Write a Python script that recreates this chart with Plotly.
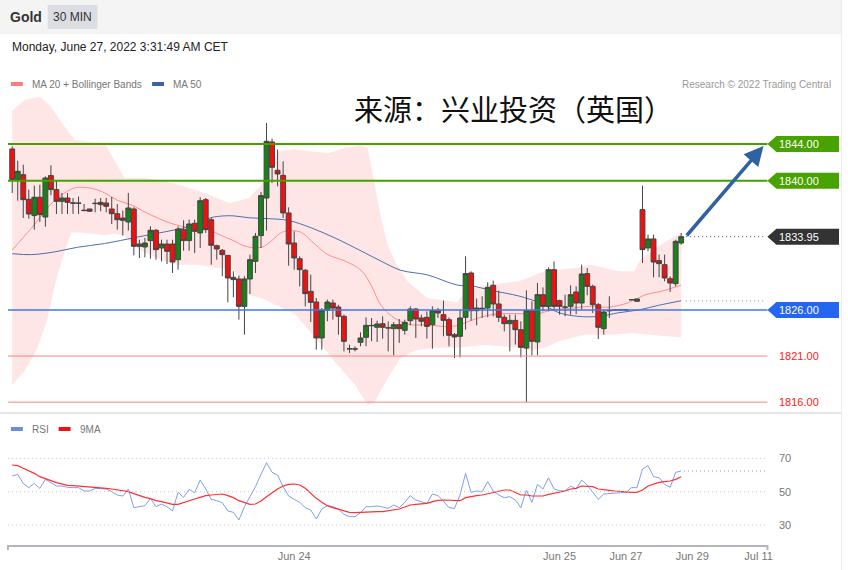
import plotly.graph_objects as go

W, H = 848, 570

# ---------------- data ----------------
opens = [1843.46,1840.13,1840.67,1838.00,1836.23,1838.22,1836.08,1840.57,1839.05,1837.78,
         1838.14,1837.62,1837.60,1836.82,1836.95,1837.58,1837.67,1837.60,1836.95,1836.44,
         1835.97,1835.54,1836.95,1832.90,1832.83,1833.52,1834.64,1832.72,1833.15,1833.15,
         1831.45,1834.71,1833.52,1835.40,1834.35,1837.96,1835.79,1832.97,1832.47,1831.92,
         1829.54,1829.36,1826.39,1829.36,1831.27,1834.06,1838.14,1844.22,1841.14,1840.60,
         1836.52,1833.26,1831.56,1830.30,1828.02,1826.86,1822.96,1825.96,1826.75,1826.32,
         1825.31,1821.80,1821.78,1822.49,1823.03,1824.33,1824.12,1824.51,1824.07,1823.97,
         1824.40,1823.79,1824.84,1826.10,1825.13,1825.20,1824.40,1825.92,1825.49,1824.95,
         1823.32,1823.14,1825.20,1830.01,1825.92,1826.14,1826.21,1828.67,1826.65,1825.20,
         1824.51,1824.87,1823.86,1821.87,1825.92,1822.53,1827.66,1826.39,1830.37,1827.01,
         1826.30,1826.39,1827.95,1826.75,1829.94,1828.56,1826.57,1823.97,1825.90,1826.00,
         1826.00,1826.02,1827.10,1826.94,1836.88,1832.72,1833.70,1831.35,1830.91,1829.39,
         1828.85,1833.26]
highs = [1843.75,1842.19,1841.76,1839.05,1839.48,1839.59,1840.49,1841.69,1840.02,1838.69,
         1838.69,1838.14,1838.30,1837.49,1836.97,1838.07,1838.14,1838.14,1838.25,1837.49,
         1836.77,1838.69,1837.13,1833.62,1833.80,1835.07,1834.78,1833.62,1833.62,1833.62,
         1835.07,1835.72,1835.79,1835.79,1838.22,1838.14,1835.97,1833.08,1832.61,1831.93,
         1830.19,1829.72,1829.65,1832.00,1834.35,1838.79,1846.28,1844.58,1843.39,1842.12,
         1837.13,1834.53,1831.82,1830.44,1829.83,1827.30,1826.21,1827.12,1827.12,1826.57,
         1825.49,1822.24,1822.06,1823.57,1825.20,1825.13,1824.84,1825.31,1824.77,1824.69,
         1825.02,1824.95,1826.39,1826.21,1825.49,1825.85,1826.39,1826.21,1827.01,1825.20,
         1823.50,1826.03,1831.82,1830.19,1827.23,1827.48,1829.00,1829.18,1828.09,1825.49,
         1825.49,1825.49,1824.77,1828.13,1826.94,1828.92,1828.45,1830.62,1831.27,1827.12,
         1827.66,1828.67,1828.56,1830.91,1830.55,1828.74,1826.75,1826.03,1827.48,1826.05,
         1826.05,1826.05,1827.15,1827.23,1839.48,1834.17,1834.17,1832.00,1832.00,1829.65,
         1833.62,1834.35]
lows = [1838.69,1837.85,1835.97,1835.90,1834.71,1835.54,1835.03,1838.43,1836.41,1836.41,
        1836.41,1836.41,1836.41,1836.70,1836.68,1836.59,1836.70,1836.59,1835.32,1834.71,
        1834.09,1834.60,1831.92,1831.64,1831.71,1831.56,1831.45,1831.27,1830.98,1830.01,
        1830.37,1832.43,1832.43,1832.18,1832.72,1834.35,1830.91,1831.45,1829.65,1826.83,
        1827.37,1824.95,1823.32,1827.73,1830.01,1832.72,1834.60,1839.77,1839.41,1835.97,
        1830.80,1830.37,1828.56,1826.39,1824.69,1821.69,1821.69,1824.77,1824.95,1823.32,
        1821.51,1821.33,1821.51,1822.06,1822.06,1822.60,1822.53,1822.89,1821.51,1821.08,
        1822.42,1823.32,1824.33,1822.96,1824.22,1822.89,1821.80,1825.13,1823.14,1822.06,
        1820.79,1820.86,1823.86,1824.84,1824.33,1825.13,1825.20,1825.31,1824.69,1823.68,
        1821.51,1822.24,1820.86,1816.02,1821.08,1821.08,1825.85,1825.85,1826.03,1825.49,
        1825.31,1825.49,1825.56,1826.03,1827.59,1825.67,1822.85,1823.32,1825.13,1825.95,
        1825.95,1825.97,1827.05,1826.90,1831.09,1832.36,1829.54,1829.54,1829.10,1827.95,
        1828.56,1833.08]
closes = [1840.13,1841.04,1837.96,1836.41,1838.22,1836.34,1840.31,1839.05,1837.78,1838.14,
          1837.67,1837.58,1837.56,1836.78,1836.70,1837.54,1837.42,1837.24,1836.44,1835.79,
          1835.72,1837.06,1832.90,1833.15,1833.26,1834.64,1832.54,1833.15,1832.36,1831.20,
          1834.78,1833.52,1835.32,1834.53,1837.85,1834.71,1833.01,1832.61,1832.00,1829.47,
          1829.29,1826.39,1829.36,1831.45,1833.99,1838.40,1844.29,1841.47,1840.75,1836.52,
          1833.15,1831.64,1830.37,1827.77,1826.83,1822.96,1825.96,1826.86,1826.21,1825.31,
          1822.60,1821.78,1821.76,1822.96,1824.33,1824.30,1824.48,1824.12,1824.05,1824.40,
          1823.97,1824.66,1826.10,1825.02,1824.77,1824.22,1825.92,1825.67,1824.87,1823.25,
          1823.07,1825.13,1829.94,1825.92,1826.21,1826.17,1828.45,1826.65,1825.20,1824.51,
          1824.87,1823.86,1821.95,1825.92,1822.60,1827.66,1826.39,1830.37,1826.39,1826.39,
          1826.32,1827.66,1826.75,1829.90,1828.56,1826.57,1824.12,1825.78,1825.95,1826.00,
          1826.02,1826.00,1827.12,1827.19,1832.54,1833.70,1831.20,1831.02,1829.47,1828.92,
          1833.44,1833.95]
idx = list(range(len(closes)))

# Bollinger band edges and moving averages (candle index, price)
bb_up_idx = [0, 2.3, 5.0, 6.8, 8.6, 11.3, 16.7, 18.5, 20.3, 23.9, 27.5, 31.1, 34.7, 39.2, 42.8, 45.1,
             48.1, 51.2, 54.8, 57.1, 60.2, 63.1, 64.3, 65.6, 66.7, 67.9, 69.2, 71.5, 75.1, 80.5, 82.0,
             85.6, 91.7, 96.3, 102.5, 104.8, 109.7, 112.5, 113.8, 116.9, 121]
bb_up = [1847.6, 1848.8, 1849.1, 1848.2, 1846.6, 1844.4, 1844.1, 1842.2, 1840.3, 1840.3, 1840.0, 1839.4,
         1838.7, 1837.6, 1838.1, 1839.6, 1843.2, 1843.4, 1843.2, 1843.0, 1843.6, 1843.9, 1843.6, 1839.6,
         1836.0, 1833.1, 1831.3, 1829.1, 1827.3, 1826.8, 1828.1, 1828.7, 1829.1, 1830.2, 1830.6, 1830.9,
         1830.2, 1830.2, 1831.6, 1832.9, 1834.4]
bb_lo_idx = [0, 2.3, 4.6, 6.4, 7.7, 9.1, 10.7, 12.5, 16.7, 18.5, 20.3, 23.0, 27.5, 29.8, 33.4, 37.0, 40.1,
             42.8, 45.1, 51.2, 55.9, 58.9, 62.0, 64.3, 65.6, 67.9, 70.3, 72.8, 76.4, 80.5, 85.6, 91.7,
             93.5, 96.3, 98.9, 103.5, 108.4, 112.0, 115.6, 121]
bb_lo = [1817.9, 1819.4, 1821.9, 1825.1, 1828.7, 1831.6, 1834.4, 1834.4, 1834.1, 1834.3, 1834.0, 1832.5,
         1831.3, 1830.9, 1830.9, 1830.6, 1830.3, 1827.6, 1827.3, 1825.5, 1822.2, 1820.0, 1817.9, 1815.7,
         1816.1, 1818.6, 1820.8, 1821.6, 1821.9, 1821.9, 1822.2, 1821.9, 1821.6, 1821.9, 1822.6, 1823.3,
         1823.3, 1823.5, 1823.3, 1823.0]
ma20_idx = [0, 3.5, 7.7, 10.7, 11.8, 14.3, 16.7, 19.0, 21.5, 24.4, 28.7, 32.3, 34.7, 37.7, 40.1, 42.2,
            45.1, 46.9, 48.7, 50.5, 52.3, 54.8, 57.1, 60.2, 63.1, 64.9, 66.7, 69.2, 72.1, 75.1, 78.2,
            80.5, 83.2, 86.8, 91.7, 94.5, 97.6, 101.2, 104.8, 107.9, 111.5, 114.3, 117.9, 121]
ma20 = [1832.5, 1834.9, 1837.9, 1839.1, 1839.3, 1839.2, 1838.7, 1837.9, 1837.4, 1836.5, 1835.4, 1834.9,
        1834.9, 1834.1, 1833.5, 1832.9, 1832.8, 1833.5, 1834.4, 1834.6, 1834.4, 1833.1, 1832.0, 1831.3,
        1830.3, 1828.7, 1826.5, 1825.1, 1824.4, 1824.4, 1824.2, 1824.3, 1824.9, 1825.5, 1825.6, 1825.5,
        1826.0, 1826.2, 1826.4, 1826.3, 1826.8, 1827.6, 1828.1, 1828.7]
ma50_idx = [0, 3.5, 7.7, 11.8, 16.7, 22.6, 28.7, 32.3, 35.9, 38.3, 40.1, 42.8, 46.4, 50.0, 54.1, 58.4,
            63.1, 66.7, 70.3, 75.1, 80.5, 83.2, 86.8, 91.7, 95.3, 98.9, 102.5, 106.1, 109.7, 113.3,
            116.9, 121]
ma50 = [1832.1, 1832.0, 1832.3, 1832.8, 1833.2, 1833.9, 1834.6, 1835.1, 1836.0, 1836.2, 1836.2, 1836.0,
        1835.9, 1835.7, 1834.9, 1833.8, 1832.4, 1831.3, 1830.3, 1829.8, 1828.7, 1828.6, 1828.1, 1827.5,
        1826.8, 1825.7, 1825.3, 1825.3, 1825.7, 1826.0, 1826.5, 1827.0]

rsi = [59.4, 60.4, 55.0, 52.4, 55.0, 52.0, 57.4, 55.4, 53.4, 53.4,
       52.6, 52.4, 52.4, 50.4, 50.4, 52.0, 52.0, 51.6, 50.0, 48.0,
       47.4, 51.6, 40.4, 40.8, 41.6, 46.0, 41.0, 42.6, 41.0, 38.4,
       49.6, 46.6, 51.4, 49.4, 57.0, 51.6, 45.4, 44.6, 43.4, 38.4,
       37.6, 33.0, 41.0, 47.0, 53.0, 60.4, 67.4, 61.6, 60.0, 53.0,
       47.4, 45.4, 43.6, 40.4, 39.0, 33.6, 39.6, 41.6, 41.0, 39.6,
       36.4, 35.0, 35.0, 37.4, 41.0, 41.0, 41.4, 40.8, 40.0, 42.0,
       40.4, 43.6, 47.6, 45.0, 44.0, 43.0, 48.6, 47.6, 44.4, 40.4,
       40.0, 48.0, 61.0, 49.6, 50.4, 50.0, 56.0, 50.4, 48.0, 46.4,
       47.0, 45.0, 40.4, 51.0, 43.6, 54.4, 51.6, 58.4, 51.6, 50.6,
       50.4, 53.4, 51.6, 57.0, 54.0, 49.6, 45.4, 48.6, 49.0, 49.4,
       49.4, 49.4, 52.4, 52.4, 63.6, 65.6, 59.0, 58.4, 54.4, 52.6,
       61.6, 62.4]
rsi_ma = [66.0, 65.6, 64.0, 62.6, 61.0, 59.0, 58.0, 56.6, 55.4, 54.6,
          53.8, 53.6, 53.4, 53.2, 53.0, 52.6, 52.2, 52.0, 51.6, 51.0,
          50.4, 50.0, 48.8, 47.6, 46.6, 45.8, 44.6, 44.0, 43.2, 42.4,
          42.4, 43.6, 44.6, 45.6, 46.6, 47.6, 48.0, 48.4, 48.6, 47.6,
          46.4, 44.6, 43.4, 42.4, 42.6, 44.4, 47.0, 49.4, 51.6, 53.4,
          54.4, 54.6, 54.0, 52.0, 49.0, 46.0, 43.6, 41.6, 40.4, 39.6,
          38.6, 37.6, 37.4, 37.6, 38.0, 38.0, 38.0, 38.0, 38.4, 39.2,
          39.6, 40.8, 42.0, 42.4, 42.8, 43.0, 44.0, 44.8, 45.0, 44.8,
          44.6, 44.6, 46.4, 47.2, 47.6, 48.0, 48.8, 49.6, 50.4, 51.0,
          51.0, 49.6, 48.0, 48.0, 47.4, 47.4, 47.4, 48.4, 49.0, 49.6,
          50.4, 51.6, 52.0, 53.4, 53.4, 53.0, 51.6, 51.0, 50.8, 50.4,
          50.0, 50.0, 49.6, 49.6, 51.0, 53.4, 54.6, 55.6, 56.0, 56.4,
          57.4, 59.0]

# levels and labels
resist_levels = [1844.00, 1840.00]
pivot_level = 1826.00
support_levels = [1821.00, 1816.00]
last_price = 1833.95
ma50_last = 1826.97
rsi_levels = [70, 50, 30]
tick_idx = [51, 99, 111, 123, 135]
tick_text = ["Jun 24", "Jun 25", "Jun 27", "Jun 29", "Jul 11"]
x_range = [-0.77, 136.6]
y_range = [1815.15, 1849.42]
rsi_range = [18.0, 81.0]

FONT = "Liberation Sans, Arial, sans-serif"

def px(x):
    return x / W

def py(y):
    return 1 - y / H

fig = go.Figure()

# Bollinger band area (bottom subplot layer)
fig.add_trace(go.Scatter(
    x=bb_up_idx + bb_lo_idx[::-1], y=bb_up + bb_lo[::-1],
    fill="toself", fillcolor="rgba(255,205,205,0.5)", line=dict(width=0),
    mode="lines", hoverinfo="skip", xaxis="x", yaxis="y"))
fig.add_trace(go.Scatter(x=ma20_idx, y=ma20, mode="lines", line=dict(color="#ff8c8c", width=1, shape="spline"),
                         xaxis="x", yaxis="y", hoverinfo="skip"))
fig.add_trace(go.Scatter(x=ma50_idx, y=ma50, mode="lines", line=dict(color="#4d6fae", width=1, shape="spline"),
                         xaxis="x", yaxis="y", hoverinfo="skip"))
fig.add_trace(go.Scatter(x=[121.9, 136.3], y=[last_price, last_price], mode="lines",
                         line=dict(color="#555", width=1, dash="1px,3px"), xaxis="x", yaxis="y"))
fig.add_trace(go.Scatter(x=[121.9, 136.3], y=[ma50_last, ma50_last], mode="lines",
                         line=dict(color="#6f86b5", width=1, dash="1px,3px"), xaxis="x", yaxis="y"))
# candles on an overlaying axis so they sit above the band
fig.add_trace(go.Candlestick(
    x=idx, open=opens, high=highs, low=lows, close=closes,
    increasing=dict(fillcolor="#1a801a", line=dict(color="#444444", width=1)),
    decreasing=dict(fillcolor="#f01010", line=dict(color="#444444", width=1)),
    whiskerwidth=0, xaxis="x", yaxis="y3", hoverinfo="skip"))

# RSI panel
fig.add_trace(go.Scatter(x=idx, y=rsi, mode="lines", line=dict(color="#7f9ef0", width=1),
                         xaxis="x2", yaxis="y2", hoverinfo="skip"))
fig.add_trace(go.Scatter(x=idx, y=rsi_ma, mode="lines", line=dict(color="#ff3030", width=1.2),
                         xaxis="x2", yaxis="y2", hoverinfo="skip"))
fig.add_trace(go.Scatter(x=[121.5, 136.2], y=[rsi[-1], rsi[-1]], mode="lines",
                         line=dict(color="#7f9ef0", width=1, dash="1px,3px"), xaxis="x2", yaxis="y2"))

shapes = []
annotations = []

# header
shapes.append(dict(type="rect", xref="paper", yref="paper", x0=0, x1=px(846), y0=py(34), y1=1,
                   fillcolor="#f4f4f4", line=dict(width=0), layer="below"))
shapes.append(dict(type="rect", xref="paper", yref="paper", x0=px(48), x1=px(98), y0=py(29), y1=py(5),
                   fillcolor="#dcdde3", line=dict(width=0), layer="below"))
annotations.append(dict(text="<b>Gold</b>", x=px(8), y=py(17), xref="paper", yref="paper", xanchor="left",
                        yanchor="middle", showarrow=False, font=dict(size=14, color="#333", family=FONT)))
annotations.append(dict(text="30 MIN", x=px(73), y=py(17), xref="paper", yref="paper", xanchor="center",
                        yanchor="middle", showarrow=False, font=dict(size=12, color="#333", family=FONT)))
annotations.append(dict(text="Monday, June 27, 2022 3:31:49 AM CET", x=px(10), y=py(47), xref="paper",
                        yref="paper", xanchor="left", yanchor="middle", showarrow=False,
                        font=dict(size=12, color="#222", family=FONT)))

# legends
def legend_item(x, y, color, text):
    shapes.append(dict(type="rect", xref="paper", yref="paper", x0=px(x), x1=px(x + 12),
                       y0=py(y + 2), y1=py(y - 2), fillcolor=color, line=dict(width=0)))
    annotations.append(dict(text=text, x=px(x + 19), y=py(y), xref="paper", yref="paper", xanchor="left",
                            yanchor="middle", showarrow=False, font=dict(size=10, color="#777", family=FONT)))

legend_item(11, 84, "#ff7b7b", "MA 20 + Bollinger Bands")
legend_item(153, 84, "#3a64a0", "MA 50")
legend_item(11, 429, "#6a8de0", "RSI")
legend_item(59, 429, "#ee1111", "9MA")
annotations.append(dict(text="Research © 2022 Trading Central", x=px(838), y=py(84), xref="paper", yref="paper",
                        xanchor="right", yanchor="middle", showarrow=False,
                        font=dict(size=10, color="#999", family=FONT)))
annotations.append(dict(text="来源：兴业投资（英国）", x=px(517), y=py(108), xref="paper", yref="paper",
                        xanchor="center", yanchor="middle", showarrow=False,
                        font=dict(size=29, color="#111", family="Noto Sans CJK SC")))

# horizontal levels
X0, X1 = px(8), px(772)
for lv in resist_levels:
    shapes.append(dict(type="line", xref="paper", yref="y", x0=X0, x1=X1, y0=lv, y1=lv,
                       line=dict(color="#45a000", width=2)))
shapes.append(dict(type="line", xref="paper", yref="y", x0=X0, x1=X1, y0=pivot_level, y1=pivot_level,
                   line=dict(color="#3a78ef", width=1.5)))
for lv in support_levels:
    shapes.append(dict(type="line", xref="paper", yref="y", x0=X0, x1=X1, y0=lv, y1=lv,
                       line=dict(color="#ff8080", width=1)))
    annotations.append(dict(text=f"{lv:.2f}", x=px(782), y=lv, xref="paper", yref="y", xanchor="left",
                            yanchor="middle", showarrow=False, font=dict(size=11, color="#ff2020", family=FONT)))

# price tags
half = 8 / 9.22
def tag(level, color):
    path = (f"M {px(772)},{level} L {px(781)},{level + half} L {px(844)},{level + half} "
            f"L {px(844)},{level - half} L {px(781)},{level - half} Z")
    shapes.append(dict(type="path", xref="paper", yref="y", path=path, fillcolor=color, line=dict(width=0)))
    annotations.append(dict(text=f"{level:.2f}", x=px(782), y=level, xref="paper", yref="y", xanchor="left",
                            yanchor="middle", showarrow=False, font=dict(size=11, color="white", family=FONT)))

for lv in resist_levels:
    tag(lv, "#48a200")
tag(last_price, "#333333")
tag(pivot_level, "#2466f0")

# forecast arrow
annotations.append(dict(x=px(768), y=py(146), xref="paper", yref="paper", ax=-78, ay=91, text="",
                        showarrow=True, arrowhead=2, arrowsize=1.1, arrowwidth=3.5, arrowcolor="#2f62a3"))

# RSI grid
for lv in rsi_levels:
    shapes.append(dict(type="line", xref="paper", yref="y2", x0=X0, x1=X1, y0=lv, y1=lv,
                       line=dict(color="#c4c4c4", width=1, dash="1px,3px")))
    annotations.append(dict(text=str(lv), x=px(782), y=lv, xref="paper", yref="y2", xanchor="left",
                            yanchor="middle", showarrow=False, font=dict(size=11, color="#777", family=FONT)))

# separators / axis end ticks
shapes.append(dict(type="line", xref="paper", yref="paper", x0=0, x1=px(846), y0=py(413), y1=py(413),
                   line=dict(color="#e4e6ea", width=2)))
shapes.append(dict(type="line", xref="paper", yref="paper", x0=px(846.5), x1=px(846.5), y0=0, y1=1,
                   line=dict(color="#ececf0", width=1)))
for xe in (8, 772):
    shapes.append(dict(type="line", xref="paper", yref="paper", x0=px(xe), x1=px(xe), y0=py(545), y1=py(550),
                       line=dict(color="#b4b4bc", width=2)))

fig.update_layout(
    width=W, height=H, autosize=False, margin=dict(l=0, r=0, t=0, b=0, pad=0),
    paper_bgcolor="white", plot_bgcolor="rgba(0,0,0,0)", showlegend=False,
    font=dict(family=FONT),
    boxgap=0.12, boxgroupgap=0.0,
    xaxis=dict(domain=[px(8), px(772)], range=x_range, visible=False, rangeslider=dict(visible=False),
               anchor="y"),
    yaxis=dict(domain=[py(410), py(94)], range=y_range, visible=False, anchor="x"),
    yaxis3=dict(range=y_range, visible=False, overlaying="y", anchor="x"),
    xaxis2=dict(domain=[px(8), px(772)], range=x_range, anchor="y2", showline=True, linecolor="#b4b4bc",
                linewidth=2, showgrid=False, zeroline=False, tickvals=tick_idx, ticktext=tick_text,
                ticks="", tickfont=dict(size=11, color="#777", family=FONT)),
    yaxis2=dict(domain=[py(545), py(440)], range=rsi_range, visible=False, anchor="x2"),
    shapes=shapes, annotations=annotations,
)

fig.write_html(
    "out.html",
    config={"displayModeBar": False, "responsive": False, "staticPlot": True},
    post_script="document.body.style.margin='0px';document.body.style.padding='0px';"
                "document.body.style.overflow='hidden';document.documentElement.style.overflow='hidden';",
)
